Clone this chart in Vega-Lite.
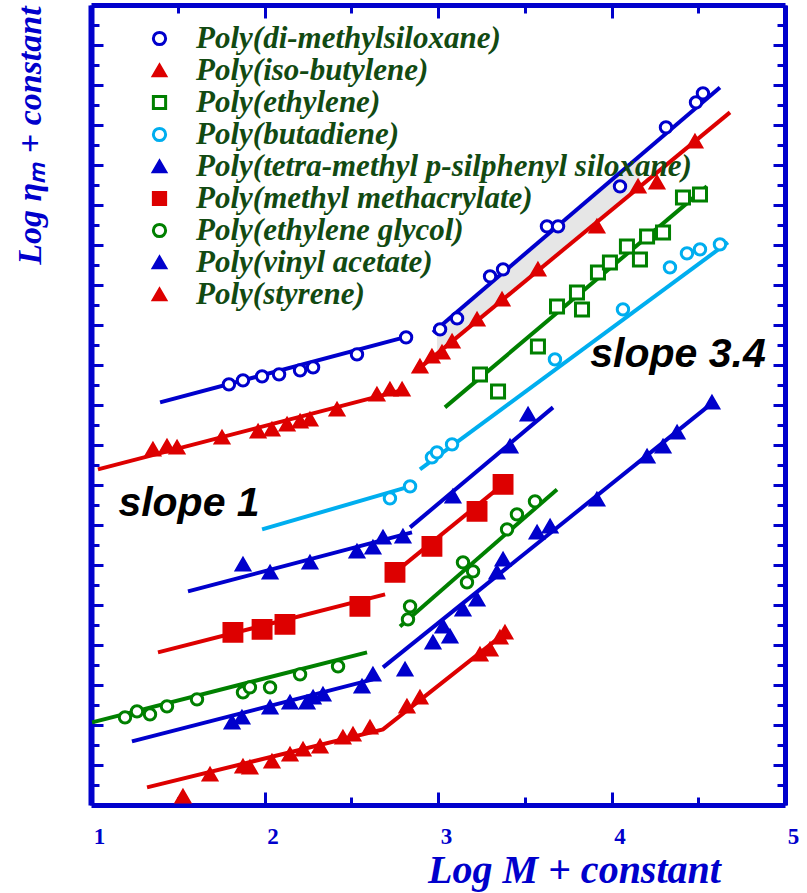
{
  "$schema": "https://vega.github.io/schema/vega-lite/v6.json",
  "width": 694,
  "height": 800,
  "autosize": {"type": "none"},
  "padding": {"left": 91, "top": 5, "right": 22, "bottom": 88},
  "background": "white",
  "config": {"view": {"stroke": null}, "axis": {"grid": false}},
  "datasets": {
    "shade": [
      {"x": 2.994, "y": 23.80, "y2": 22.56},
      {"x": 4.164, "y": 32.46, "y2": 30.92}
    ],
    "lines": [
      {"s": "Poly(di-methylsiloxane)", "seg": "a", "x": 1.398, "y": 20.13},
      {"s": "Poly(di-methylsiloxane)", "seg": "a", "x": 2.827, "y": 23.43},
      {"s": "Poly(di-methylsiloxane)", "seg": "b", "x": 2.971, "y": 23.63},
      {"s": "Poly(di-methylsiloxane)", "seg": "b", "x": 4.625, "y": 35.88},
      {"s": "Poly(iso-butylene)", "seg": "a", "x": 1.040, "y": 16.78},
      {"s": "Poly(iso-butylene)", "seg": "a", "x": 2.810, "y": 20.78},
      {"s": "Poly(iso-butylene)", "seg": "b", "x": 2.885, "y": 21.78},
      {"s": "Poly(iso-butylene)", "seg": "b", "x": 4.683, "y": 34.63},
      {"s": "Poly(ethylene)", "seg": "b", "x": 3.040, "y": 19.88},
      {"s": "Poly(ethylene)", "seg": "b", "x": 4.550, "y": 30.93},
      {"s": "Poly(butadiene)", "seg": "a", "x": 1.986, "y": 13.78},
      {"s": "Poly(butadiene)", "seg": "a", "x": 2.839, "y": 15.93},
      {"s": "Poly(butadiene)", "seg": "b", "x": 2.896, "y": 16.78},
      {"s": "Poly(butadiene)", "seg": "b", "x": 4.671, "y": 28.13},
      {"s": "Poly(tetra-methyl p-silphenyl siloxane)", "seg": "a", "x": 1.559, "y": 10.68},
      {"s": "Poly(tetra-methyl p-silphenyl siloxane)", "seg": "a", "x": 2.850, "y": 13.63},
      {"s": "Poly(tetra-methyl p-silphenyl siloxane)", "seg": "b", "x": 2.839, "y": 13.88},
      {"s": "Poly(tetra-methyl p-silphenyl siloxane)", "seg": "b", "x": 3.663, "y": 19.88},
      {"s": "Poly(methyl methacrylate)", "seg": "a", "x": 1.386, "y": 7.63},
      {"s": "Poly(methyl methacrylate)", "seg": "a", "x": 2.695, "y": 10.53},
      {"s": "Poly(methyl methacrylate)", "seg": "b", "x": 2.752, "y": 11.63},
      {"s": "Poly(methyl methacrylate)", "seg": "b", "x": 3.375, "y": 16.03},
      {"s": "Poly(ethylene glycol)", "seg": "a", "x": 1.006, "y": 4.13},
      {"s": "Poly(ethylene glycol)", "seg": "a", "x": 2.591, "y": 7.63},
      {"s": "Poly(ethylene glycol)", "seg": "b", "x": 2.781, "y": 8.93},
      {"s": "Poly(ethylene glycol)", "seg": "b", "x": 3.686, "y": 15.78},
      {"s": "Poly(vinyl acetate)", "seg": "a", "x": 1.236, "y": 3.18},
      {"s": "Poly(vinyl acetate)", "seg": "a", "x": 2.625, "y": 6.28},
      {"s": "Poly(vinyl acetate)", "seg": "b", "x": 2.683, "y": 6.88},
      {"s": "Poly(vinyl acetate)", "seg": "b", "x": 4.585, "y": 20.13},
      {"s": "Poly(styrene)", "seg": "a", "x": 1.323, "y": 0.88},
      {"s": "Poly(styrene)", "seg": "a", "x": 2.683, "y": 3.78},
      {"s": "Poly(styrene)", "seg": "a", "x": 3.398, "y": 8.68}
    ],
    "points": [
      {"s": "Poly(di-methylsiloxane)", "x": 1.795, "y": 21.03},
      {"s": "Poly(di-methylsiloxane)", "x": 1.876, "y": 21.23},
      {"s": "Poly(di-methylsiloxane)", "x": 1.986, "y": 21.43},
      {"s": "Poly(di-methylsiloxane)", "x": 2.084, "y": 21.53},
      {"s": "Poly(di-methylsiloxane)", "x": 2.205, "y": 21.73},
      {"s": "Poly(di-methylsiloxane)", "x": 2.280, "y": 21.88},
      {"s": "Poly(di-methylsiloxane)", "x": 2.533, "y": 22.53},
      {"s": "Poly(di-methylsiloxane)", "x": 2.816, "y": 23.38},
      {"s": "Poly(di-methylsiloxane)", "x": 3.012, "y": 23.78},
      {"s": "Poly(di-methylsiloxane)", "x": 3.110, "y": 24.33},
      {"s": "Poly(di-methylsiloxane)", "x": 3.300, "y": 26.43},
      {"s": "Poly(di-methylsiloxane)", "x": 3.375, "y": 26.78},
      {"s": "Poly(di-methylsiloxane)", "x": 3.628, "y": 28.93},
      {"s": "Poly(di-methylsiloxane)", "x": 3.692, "y": 28.93},
      {"s": "Poly(di-methylsiloxane)", "x": 4.049, "y": 30.93},
      {"s": "Poly(di-methylsiloxane)", "x": 4.314, "y": 33.88},
      {"s": "Poly(di-methylsiloxane)", "x": 4.487, "y": 35.13},
      {"s": "Poly(di-methylsiloxane)", "x": 4.527, "y": 35.58},
      {"s": "Poly(iso-butylene)", "x": 1.357, "y": 17.78},
      {"s": "Poly(iso-butylene)", "x": 1.438, "y": 17.93},
      {"s": "Poly(iso-butylene)", "x": 1.496, "y": 17.88},
      {"s": "Poly(iso-butylene)", "x": 1.755, "y": 18.38},
      {"s": "Poly(iso-butylene)", "x": 1.963, "y": 18.68},
      {"s": "Poly(iso-butylene)", "x": 2.043, "y": 18.78},
      {"s": "Poly(iso-butylene)", "x": 2.130, "y": 19.03},
      {"s": "Poly(iso-butylene)", "x": 2.205, "y": 19.18},
      {"s": "Poly(iso-butylene)", "x": 2.262, "y": 19.28},
      {"s": "Poly(iso-butylene)", "x": 2.418, "y": 19.78},
      {"s": "Poly(iso-butylene)", "x": 2.648, "y": 20.53},
      {"s": "Poly(iso-butylene)", "x": 2.723, "y": 20.78},
      {"s": "Poly(iso-butylene)", "x": 2.793, "y": 20.78},
      {"s": "Poly(iso-butylene)", "x": 2.896, "y": 21.93},
      {"s": "Poly(iso-butylene)", "x": 2.965, "y": 22.43},
      {"s": "Poly(iso-butylene)", "x": 3.023, "y": 22.63},
      {"s": "Poly(iso-butylene)", "x": 3.081, "y": 23.18},
      {"s": "Poly(iso-butylene)", "x": 3.225, "y": 24.28},
      {"s": "Poly(iso-butylene)", "x": 3.369, "y": 25.28},
      {"s": "Poly(iso-butylene)", "x": 3.576, "y": 26.78},
      {"s": "Poly(iso-butylene)", "x": 3.916, "y": 28.93},
      {"s": "Poly(iso-butylene)", "x": 4.153, "y": 30.93},
      {"s": "Poly(iso-butylene)", "x": 4.262, "y": 31.13},
      {"s": "Poly(iso-butylene)", "x": 4.481, "y": 33.18},
      {"s": "Poly(ethylene)", "x": 3.242, "y": 21.53},
      {"s": "Poly(ethylene)", "x": 3.346, "y": 20.68},
      {"s": "Poly(ethylene)", "x": 3.576, "y": 22.93},
      {"s": "Poly(ethylene)", "x": 3.686, "y": 24.93},
      {"s": "Poly(ethylene)", "x": 3.801, "y": 25.63},
      {"s": "Poly(ethylene)", "x": 3.830, "y": 24.78},
      {"s": "Poly(ethylene)", "x": 3.922, "y": 26.63},
      {"s": "Poly(ethylene)", "x": 3.991, "y": 27.13},
      {"s": "Poly(ethylene)", "x": 4.089, "y": 27.93},
      {"s": "Poly(ethylene)", "x": 4.164, "y": 27.28},
      {"s": "Poly(ethylene)", "x": 4.205, "y": 28.43},
      {"s": "Poly(ethylene)", "x": 4.297, "y": 28.63},
      {"s": "Poly(ethylene)", "x": 4.412, "y": 30.38},
      {"s": "Poly(ethylene)", "x": 4.510, "y": 30.53},
      {"s": "Poly(butadiene)", "x": 2.723, "y": 15.33},
      {"s": "Poly(butadiene)", "x": 2.839, "y": 15.93},
      {"s": "Poly(butadiene)", "x": 2.965, "y": 17.38},
      {"s": "Poly(butadiene)", "x": 2.994, "y": 17.63},
      {"s": "Poly(butadiene)", "x": 3.081, "y": 18.03},
      {"s": "Poly(butadiene)", "x": 3.674, "y": 22.28},
      {"s": "Poly(butadiene)", "x": 4.066, "y": 24.78},
      {"s": "Poly(butadiene)", "x": 4.337, "y": 26.88},
      {"s": "Poly(butadiene)", "x": 4.435, "y": 27.58},
      {"s": "Poly(butadiene)", "x": 4.510, "y": 27.78},
      {"s": "Poly(butadiene)", "x": 4.625, "y": 28.03},
      {"s": "Poly(tetra-methyl p-silphenyl siloxane)", "x": 1.876, "y": 12.03},
      {"s": "Poly(tetra-methyl p-silphenyl siloxane)", "x": 2.032, "y": 11.63},
      {"s": "Poly(tetra-methyl p-silphenyl siloxane)", "x": 2.262, "y": 12.13},
      {"s": "Poly(tetra-methyl p-silphenyl siloxane)", "x": 2.533, "y": 12.68},
      {"s": "Poly(tetra-methyl p-silphenyl siloxane)", "x": 2.625, "y": 12.88},
      {"s": "Poly(tetra-methyl p-silphenyl siloxane)", "x": 2.683, "y": 13.38},
      {"s": "Poly(tetra-methyl p-silphenyl siloxane)", "x": 2.798, "y": 13.43},
      {"s": "Poly(tetra-methyl p-silphenyl siloxane)", "x": 3.086, "y": 15.43},
      {"s": "Poly(tetra-methyl p-silphenyl siloxane)", "x": 3.415, "y": 17.93},
      {"s": "Poly(tetra-methyl p-silphenyl siloxane)", "x": 3.519, "y": 19.53},
      {"s": "Poly(methyl methacrylate)", "x": 1.818, "y": 8.63},
      {"s": "Poly(methyl methacrylate)", "x": 1.986, "y": 8.78},
      {"s": "Poly(methyl methacrylate)", "x": 2.118, "y": 9.03},
      {"s": "Poly(methyl methacrylate)", "x": 2.550, "y": 9.93},
      {"s": "Poly(methyl methacrylate)", "x": 2.752, "y": 11.63},
      {"s": "Poly(methyl methacrylate)", "x": 2.965, "y": 12.93},
      {"s": "Poly(methyl methacrylate)", "x": 3.225, "y": 14.68},
      {"s": "Poly(methyl methacrylate)", "x": 3.375, "y": 16.03},
      {"s": "Poly(ethylene glycol)", "x": 1.196, "y": 4.38},
      {"s": "Poly(ethylene glycol)", "x": 1.265, "y": 4.68},
      {"s": "Poly(ethylene glycol)", "x": 1.340, "y": 4.53},
      {"s": "Poly(ethylene glycol)", "x": 1.438, "y": 4.93},
      {"s": "Poly(ethylene glycol)", "x": 1.611, "y": 5.28},
      {"s": "Poly(ethylene glycol)", "x": 1.876, "y": 5.63},
      {"s": "Poly(ethylene glycol)", "x": 1.916, "y": 5.88},
      {"s": "Poly(ethylene glycol)", "x": 2.032, "y": 5.88},
      {"s": "Poly(ethylene glycol)", "x": 2.205, "y": 6.53},
      {"s": "Poly(ethylene glycol)", "x": 2.424, "y": 6.93},
      {"s": "Poly(ethylene glycol)", "x": 2.827, "y": 9.28},
      {"s": "Poly(ethylene glycol)", "x": 2.839, "y": 9.93},
      {"s": "Poly(ethylene glycol)", "x": 3.144, "y": 12.13},
      {"s": "Poly(ethylene glycol)", "x": 3.167, "y": 11.13},
      {"s": "Poly(ethylene glycol)", "x": 3.202, "y": 11.68},
      {"s": "Poly(ethylene glycol)", "x": 3.398, "y": 13.78},
      {"s": "Poly(ethylene glycol)", "x": 3.455, "y": 14.53},
      {"s": "Poly(ethylene glycol)", "x": 3.559, "y": 15.18},
      {"s": "Poly(vinyl acetate)", "x": 1.813, "y": 4.13},
      {"s": "Poly(vinyl acetate)", "x": 1.870, "y": 4.38},
      {"s": "Poly(vinyl acetate)", "x": 2.032, "y": 4.88},
      {"s": "Poly(vinyl acetate)", "x": 2.147, "y": 5.13},
      {"s": "Poly(vinyl acetate)", "x": 2.245, "y": 5.13},
      {"s": "Poly(vinyl acetate)", "x": 2.280, "y": 5.38},
      {"s": "Poly(vinyl acetate)", "x": 2.337, "y": 5.53},
      {"s": "Poly(vinyl acetate)", "x": 2.562, "y": 5.93},
      {"s": "Poly(vinyl acetate)", "x": 2.625, "y": 6.53},
      {"s": "Poly(vinyl acetate)", "x": 2.810, "y": 6.78},
      {"s": "Poly(vinyl acetate)", "x": 2.971, "y": 8.13},
      {"s": "Poly(vinyl acetate)", "x": 3.029, "y": 8.93},
      {"s": "Poly(vinyl acetate)", "x": 3.069, "y": 8.43},
      {"s": "Poly(vinyl acetate)", "x": 3.144, "y": 9.78},
      {"s": "Poly(vinyl acetate)", "x": 3.225, "y": 10.28},
      {"s": "Poly(vinyl acetate)", "x": 3.340, "y": 11.63},
      {"s": "Poly(vinyl acetate)", "x": 3.375, "y": 12.28},
      {"s": "Poly(vinyl acetate)", "x": 3.571, "y": 13.63},
      {"s": "Poly(vinyl acetate)", "x": 3.646, "y": 13.93},
      {"s": "Poly(vinyl acetate)", "x": 3.916, "y": 15.28},
      {"s": "Poly(vinyl acetate)", "x": 4.205, "y": 17.43},
      {"s": "Poly(vinyl acetate)", "x": 4.297, "y": 17.93},
      {"s": "Poly(vinyl acetate)", "x": 4.378, "y": 18.63},
      {"s": "Poly(vinyl acetate)", "x": 4.579, "y": 20.13},
      {"s": "Poly(styrene)", "x": 1.530, "y": 0.43},
      {"s": "Poly(styrene)", "x": 1.686, "y": 1.53},
      {"s": "Poly(styrene)", "x": 1.876, "y": 1.93},
      {"s": "Poly(styrene)", "x": 1.916, "y": 1.88},
      {"s": "Poly(styrene)", "x": 2.043, "y": 2.18},
      {"s": "Poly(styrene)", "x": 2.147, "y": 2.53},
      {"s": "Poly(styrene)", "x": 2.222, "y": 2.78},
      {"s": "Poly(styrene)", "x": 2.320, "y": 2.93},
      {"s": "Poly(styrene)", "x": 2.452, "y": 3.38},
      {"s": "Poly(styrene)", "x": 2.510, "y": 3.53},
      {"s": "Poly(styrene)", "x": 2.608, "y": 3.88},
      {"s": "Poly(styrene)", "x": 2.821, "y": 4.93},
      {"s": "Poly(styrene)", "x": 2.896, "y": 5.38},
      {"s": "Poly(styrene)", "x": 3.242, "y": 7.53},
      {"s": "Poly(styrene)", "x": 3.300, "y": 7.78},
      {"s": "Poly(styrene)", "x": 3.357, "y": 8.38},
      {"s": "Poly(styrene)", "x": 3.386, "y": 8.63}
    ],
    "notes": [
      {"x": 1.565, "y": 15.03, "t": "slope 1"},
      {"x": 4.383, "y": 22.5, "t": "slope 3.4"}
    ]
  },
  "resolve": {"axis": {"x": "independent", "y": "independent"}},
  "layer": [
    {
      "data": {"name": "shade"},
      "mark": {"type": "area", "color": "#E6E6E6", "opacity": 1},
      "encoding": {
        "x": {"field": "x", "type": "quantitative", "scale": {"domain": [1, 5], "nice": false, "zero": false}, "axis": null},
        "y": {"field": "y", "type": "quantitative", "scale": {"domain": [0, 40], "nice": false, "zero": false}, "axis": null},
        "y2": {"field": "y2"}
      }
    },
    {
      "data": {"name": "lines"},
      "mark": {"type": "line", "strokeWidth": 4},
      "encoding": {
        "x": {"field": "x", "type": "quantitative", "scale": {"domain": [1, 5], "nice": false, "zero": false}, "axis": null},
        "y": {"field": "y", "type": "quantitative", "scale": {"domain": [0, 40], "nice": false, "zero": false}, "axis": null},
        "detail": [{"field": "s", "type": "nominal"}, {"field": "seg", "type": "nominal"}],
        "color": {
          "field": "s", "type": "nominal",
          "scale": {
            "domain": ["Poly(butadiene)", "Poly(di-methylsiloxane)", "Poly(ethylene glycol)", "Poly(ethylene)", "Poly(iso-butylene)", "Poly(methyl methacrylate)", "Poly(styrene)", "Poly(tetra-methyl p-silphenyl siloxane)", "Poly(vinyl acetate)"],
            "range": ["#00AEEF", "#0000CC", "#008000", "#008000", "#DD0000", "#DD0000", "#DD0000", "#0000CC", "#0000CC"]
          },
          "legend": null
        }
      }
    },
    {
      "data": {"name": "points"},
      "mark": {"type": "point", "filled": true, "opacity": 1, "strokeWidth": 3},
      "encoding": {
        "x": {
          "field": "x", "type": "quantitative",
          "scale": {"domain": [1, 5], "nice": false, "zero": false},
          "axis": {
            "orient": "bottom",
            "values": [1, 1.5, 2, 2.5, 3, 3.5, 4, 4.5, 5],
            "tickSize": {"condition": {"test": "datum.value % 1 === 0", "value": -13}, "value": -8},
            "tickWidth": 3, "tickColor": "#0000CC",
            "domainColor": "#0000CC", "domainWidth": 5,
            "labelExpr": "datum.value % 1 === 0 ? format(datum.value, 'd') : ''",
            "labelFont": "Liberation Serif", "labelFontWeight": "bold", "labelFontSize": 23,
            "labelColor": "#0000CC", "labelOffset": 8, "labelPadding": 33, "labelFlush": false, "labelOverlap": false,
            "title": "Log M + constant",
            "titleFont": "Liberation Serif", "titleFontWeight": "bold", "titleFontStyle": "italic",
            "titleFontSize": 40, "titleColor": "#0000CC",
            "titleX": 483, "titleY": 65, "titleAlign": "center", "titleBaseline": "middle"
          }
        },
        "y": {
          "field": "y", "type": "quantitative",
          "scale": {"domain": [0, 40], "nice": false, "zero": false},
          "axis": {
            "orient": "left",
            "values": [1, 2, 3, 4, 5, 6, 7, 8, 9, 10, 11, 12, 13, 14, 15, 16, 17, 18, 19, 20, 21, 22, 23, 24, 25, 26, 27, 28, 29, 30, 31, 32, 33, 34, 35, 36, 37, 38, 39],
            "tickSize": {"condition": {"test": "datum.value % 2 === 0", "value": -12}, "value": -8},
            "tickWidth": 3, "tickColor": "#0000CC",
            "domainColor": "#0000CC", "domainWidth": 6,
            "labels": false,
            "title": "Log ηₘ + constant",
            "titleFont": "Liberation Serif", "titleFontWeight": "bold", "titleFontStyle": "italic",
            "titleFontSize": 34, "titleColor": "#0000CC",
            "titleX": -61, "titleY": 130, "titleAlign": "center", "titleBaseline": "middle", "titleAngle": -90
          }
        },
        "shape": {
          "field": "s", "type": "nominal",
          "scale": {
            "domain": ["Poly(di-methylsiloxane)", "Poly(iso-butylene)", "Poly(ethylene)", "Poly(butadiene)", "Poly(tetra-methyl p-silphenyl siloxane)", "Poly(methyl methacrylate)", "Poly(ethylene glycol)", "Poly(vinyl acetate)", "Poly(styrene)"],
            "range": ["circle", "triangle-up", "square", "circle", "triangle-up", "square", "circle", "triangle-up", "triangle-up"]
          },
          "legend": {"title": null, "orient": "none", "legendX": 53, "legendY": 18, "labelFont": "Liberation Serif", "labelFontSize": 31, "labelFontStyle": "italic", "labelFontWeight": "bold", "labelColor": "#124A12", "symbolStrokeWidth": 3, "symbolSize": 150, "rowPadding": 0, "labelOffset": 21, "padding": 0, "labelLimit": 1000}
        },
        "stroke": {
          "field": "s", "type": "nominal",
          "scale": {
            "domain": ["Poly(di-methylsiloxane)", "Poly(iso-butylene)", "Poly(ethylene)", "Poly(butadiene)", "Poly(tetra-methyl p-silphenyl siloxane)", "Poly(methyl methacrylate)", "Poly(ethylene glycol)", "Poly(vinyl acetate)", "Poly(styrene)"],
            "range": ["#0000CC", "#DD0000", "#008000", "#00AEEF", "#0000CC", "#DD0000", "#008000", "#0000CC", "#DD0000"]
          },
          "legend": {"title": null, "orient": "none", "legendX": 53, "legendY": 18, "labelFont": "Liberation Serif", "labelFontSize": 31, "labelFontStyle": "italic", "labelFontWeight": "bold", "labelColor": "#124A12", "symbolStrokeWidth": 3, "symbolSize": 150, "rowPadding": 0, "labelOffset": 21, "padding": 0, "labelLimit": 1000}
        },
        "fill": {
          "field": "s", "type": "nominal",
          "scale": {
            "domain": ["Poly(di-methylsiloxane)", "Poly(iso-butylene)", "Poly(ethylene)", "Poly(butadiene)", "Poly(tetra-methyl p-silphenyl siloxane)", "Poly(methyl methacrylate)", "Poly(ethylene glycol)", "Poly(vinyl acetate)", "Poly(styrene)"],
            "range": ["white", "#DD0000", "white", "white", "#0000CC", "#DD0000", "white", "#0000CC", "#DD0000"]
          },
          "legend": {"title": null, "orient": "none", "legendX": 53, "legendY": 18, "labelFont": "Liberation Serif", "labelFontSize": 31, "labelFontStyle": "italic", "labelFontWeight": "bold", "labelColor": "#124A12", "symbolStrokeWidth": 3, "symbolSize": 150, "rowPadding": 0, "labelOffset": 21, "padding": 0, "labelLimit": 1000}
        },
        "size": {
          "field": "s", "type": "nominal",
          "scale": {
            "type": "ordinal",
            "domain": ["Poly(methyl methacrylate)", "Poly(di-methylsiloxane)", "Poly(iso-butylene)", "Poly(ethylene)", "Poly(butadiene)", "Poly(tetra-methyl p-silphenyl siloxane)", "Poly(ethylene glycol)", "Poly(vinyl acetate)", "Poly(styrene)"],
            "range": [320, 130, 170, 170, 130, 170, 130, 170, 170]
          },
          "legend": null
        }
      }
    },
    {
      "data": {"name": "notes"},
      "mark": {"type": "text", "font": "Liberation Sans", "fontWeight": "bold", "fontStyle": "italic", "fontSize": 41, "color": "black", "align": "center", "baseline": "middle"},
      "encoding": {
        "x": {"field": "x", "type": "quantitative", "scale": {"domain": [1, 5], "nice": false, "zero": false}, "axis": null},
        "y": {"field": "y", "type": "quantitative", "scale": {"domain": [0, 40], "nice": false, "zero": false}, "axis": null},
        "text": {"field": "t"}
      }
    },
    {
      "data": {"name": "notes"},
      "mark": {"type": "point", "opacity": 0},
      "encoding": {
        "x": {
          "field": "x", "type": "quantitative",
          "scale": {"domain": [1, 5], "nice": false, "zero": false},
          "axis": {
            "orient": "top",
            "values": [1, 1.5, 2, 2.5, 3, 3.5, 4, 4.5, 5],
            "tickSize": {"condition": {"test": "datum.value % 1 === 0", "value": -13}, "value": -8},
            "tickWidth": 3, "tickColor": "#0000CC",
            "domainColor": "#0000CC", "domainWidth": 5,
            "labels": false, "title": null
          }
        },
        "y": {
          "field": "y", "type": "quantitative",
          "scale": {"domain": [0, 40], "nice": false, "zero": false},
          "axis": {
            "orient": "right",
            "values": [1, 2, 3, 4, 5, 6, 7, 8, 9, 10, 11, 12, 13, 14, 15, 16, 17, 18, 19, 20, 21, 22, 23, 24, 25, 26, 27, 28, 29, 30, 31, 32, 33, 34, 35, 36, 37, 38, 39],
            "tickSize": {"condition": {"test": "datum.value % 2 === 0", "value": -12}, "value": -8},
            "tickWidth": 3, "tickColor": "#0000CC",
            "domainColor": "#0000CC", "domainWidth": 5,
            "labels": false, "title": null
          }
        }
      }
    }
  ]
}
